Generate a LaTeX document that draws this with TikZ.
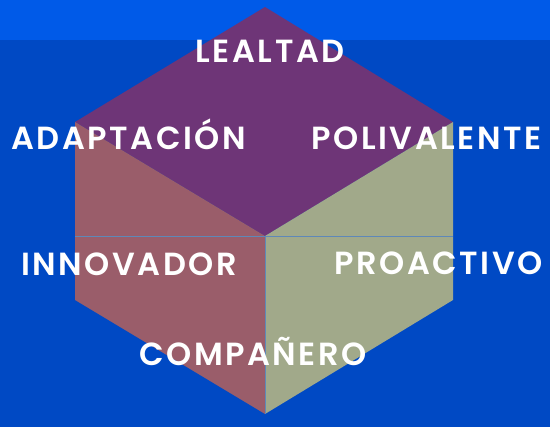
\documentclass[tikz,border=0pt]{standalone}
\usepackage{fontspec}
\newfontfamily\tagfont{Poppins}[LetterSpace=8,BoldFont={Poppins SemiBold}]
\definecolor{fondo}{HTML}{0049C4}
\definecolor{banda}{HTML}{005AE8}
\definecolor{caraA}{HTML}{6E3577}
\definecolor{caraB}{HTML}{9A5D6A}
\definecolor{caraC}{HTML}{A1A98A}
\definecolor{arista}{HTML}{5E88B8}

\begin{document}
\begin{tikzpicture}[x=1pt,y=-1pt,
   tag/.style={anchor=base, inner sep=0pt, text=white, font=\tagfont\bfseries\fontsize{32}{32}\selectfont},
   edge/.style={draw=arista, line width=0.8pt}]
   \fill[fondo] (0,0) rectangle (550,427);
   \fill[banda] (0,0) rectangle (550,40);
   \useasboundingbox (0,0) rectangle (550,427);
   % vertices del cubo
   \coordinate (T) at (265,7);
   \coordinate (UL) at (75,122);
   \coordinate (UR) at (453,122);
   \coordinate (C) at (265,236);
   \coordinate (LL) at (75,300);
   \coordinate (LR) at (453,300);
   \coordinate (B) at (265,414);
   \coordinate (ML) at (75,236);
   \coordinate (MR) at (453,236);
   \fill[caraA] (T) -- (UR) -- (C) -- (UL) -- cycle;
   \fill[caraB] (UL) -- (C) -- (B) -- (LL) -- cycle;
   \fill[caraC] (UR) -- (C) -- (B) -- (LR) -- cycle;
   \draw[edge] (ML) -- (MR);
   \draw[edge] (C) -- (B);
   % etiquetas
   \node[tag] (lealtad) at (270,63) {LEALTAD};
   \node[tag] (adaptacion) at (128.5,150) {ADAPTACIÓN};
   \node[tag] (polivalente) at (426.5,150) {POLIVALENTE};
   \node[tag] (innovador) at (129,276) {INNOVADOR};
   \node[tag] (proactivo) at (438.5,275) {PROACTIVO};
   \node[tag] (companero) at (253,366) {COMPAÑERO};
\end{tikzpicture}
\end{document}
